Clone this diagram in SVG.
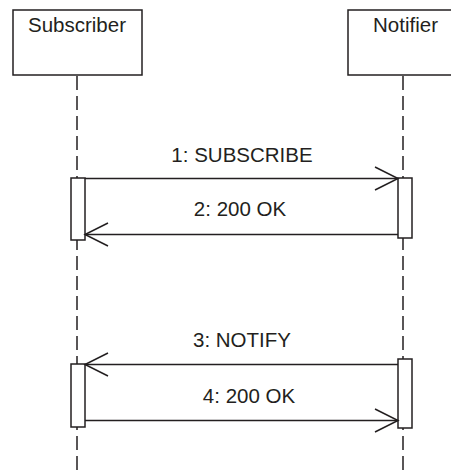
<svg xmlns="http://www.w3.org/2000/svg" width="451" height="476" viewBox="0 0 451 476">
<defs>
<style>
.box{fill:#fff;stroke:#231f20;stroke-width:1.5}
.life{stroke:#231f20;stroke-width:1.5;stroke-dasharray:14 6;fill:none}
.act{fill:#fff;stroke:#231f20;stroke-width:1.5}
.msg{stroke:#231f20;stroke-width:1.5;fill:none;marker-end:url(#open)}
text{font-family:"Liberation Sans",Arial,sans-serif;font-size:20.5px;fill:#231f20;text-anchor:middle}
</style>
<marker id="open" viewBox="-25 -13 27 26" markerWidth="27" markerHeight="26" refX="0" refY="0" orient="auto" markerUnits="userSpaceOnUse">
<path d="M-23,-11.5 L0,0 L-23,11.5" fill="none" stroke="#231f20" stroke-width="1.5"/>
</marker>
</defs>
<g id="lifelines">
<line class="life" x1="77" y1="76" x2="77" y2="476"/>
<line class="life" x1="403" y1="76" x2="403" y2="476"/>
</g>
<g id="subscriber">
<rect class="box" x="13" y="10" width="129" height="65"/>
<text x="77" y="32">Subscriber</text>
</g>
<g id="notifier">
<rect class="box" x="348" y="10" width="112" height="65"/>
<text x="405.5" y="32">Notifier</text>
</g>
<g id="activations">
<rect class="act" x="71" y="178" width="14" height="62"/>
<rect class="act" x="398" y="178" width="14" height="60"/>
<rect class="act" x="71" y="364" width="14" height="63"/>
<rect class="act" x="398" y="359" width="14" height="69"/>
</g>
<g id="connectors">
<line class="msg" x1="85" y1="178.5" x2="398" y2="178.5"/>
<line class="msg" x1="398" y1="234.5" x2="85" y2="234.5"/>
<line class="msg" x1="398" y1="364.5" x2="85" y2="364.5"/>
<line class="msg" x1="85" y1="420.5" x2="398" y2="420.5"/>
</g>
<g id="labels">
<text x="242" y="162">1: SUBSCRIBE</text>
<text x="240" y="216">2: 200 OK</text>
<text x="242" y="346.5">3: NOTIFY</text>
<text x="249" y="403">4: 200 OK</text>
</g>
</svg>
